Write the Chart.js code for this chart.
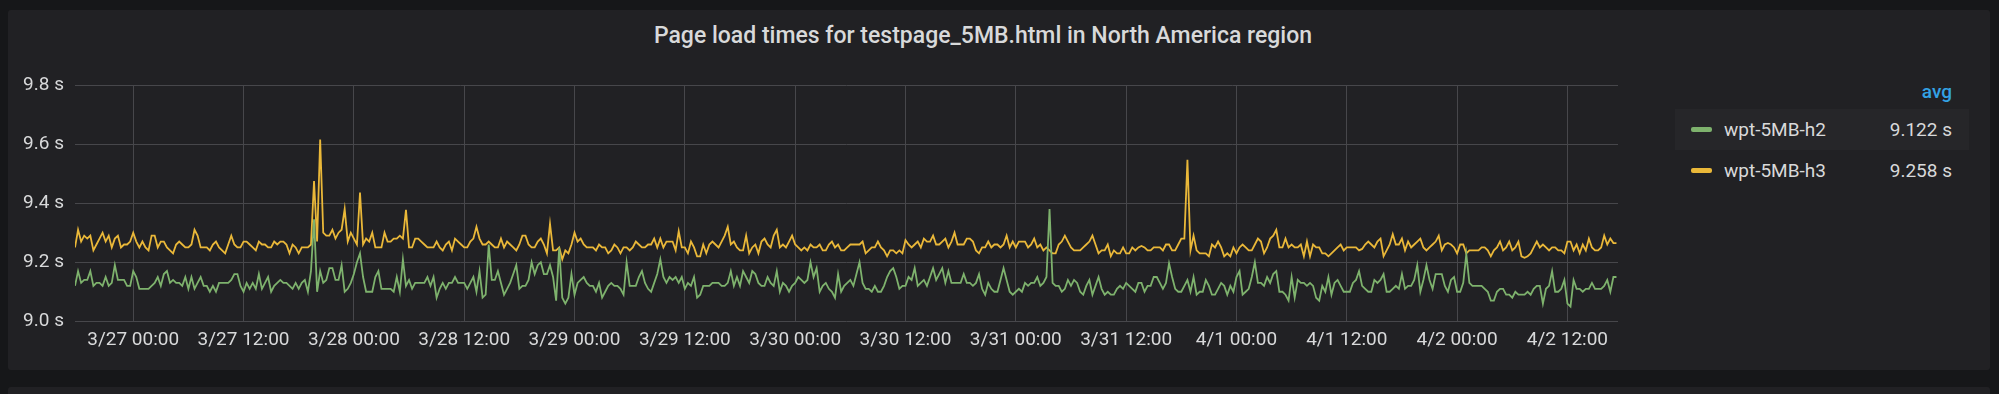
<!DOCTYPE html>
<html>
<head>
<meta charset="utf-8">
<title>Page load times - North America</title>
<script src="https://cdn.jsdelivr.net/npm/chart.js@4.4.1/dist/chart.umd.min.js"></script>
<style>
  html, body { margin: 0; padding: 0; width: 1999px; height: 394px; overflow: hidden; background: #161719; font-family: Roboto, "Noto Sans", sans-serif; }
  .panel { position: absolute; left: 8px; top: 10px; width: 1982px; height: 360px; background: #212124; border-radius: 3px; }
  .panel.next { top: 387px; height: 40px; }
  #title { position: absolute; left: 0; top: 24px; width: 1966px; text-align: center; font-size: 23px; line-height: 23px; font-weight: 500; color: #d8d9da; white-space: nowrap; }
  #chart { position: absolute; left: 0; top: 0; }
  .lg-head { position: absolute; left: 1880px; width: 72px; top: 82px; height: 20px; line-height: 20px; text-align: right; color: #33a2e5; font-size: 19px; font-weight: 500; }
  .lg-row { position: absolute; left: 1675px; width: 294px; height: 41px; display: flex; align-items: center; font-size: 19px; color: #d8d9da; }
  .lg-row.hl { background: #262629; }
  .lg-sw { width: 21px; height: 5px; border-radius: 2px; margin-left: 16px; }
  .lg-name { margin-left: 12px; }
  .lg-val { position: absolute; right: 17px; }
</style>
</head>
<body>
<div class="panel"></div>
<div class="panel next"></div>
<div id="title">Page load times for testpage_5MB.html in North America region</div>
<canvas id="chart" width="1640" height="394"></canvas>
<div class="lg-head">avg</div>
<div id="legend"></div>

<script>
// --- Daten ---
const seriesNames = ['wpt-5MB-h2', 'wpt-5MB-h3'];
const seriesColors = ['#7eb26d', '#eab839'];
const legendAvg = ['9.122 s', '9.258 s'];

// x in hours relative to 3/27 00:00, one test run every 20 minutes
const startHour = -19 / 3;
const stepHours = 1 / 3;
const endHour = 161.5;

const xTickHours = [0, 12, 24, 36, 48, 60, 72, 84, 96, 108, 120, 132, 144, 156];
const xTickLabels = ['3/27 00:00', '3/27 12:00', '3/28 00:00', '3/28 12:00', '3/29 00:00', '3/29 12:00',
  '3/30 00:00', '3/30 12:00', '3/31 00:00', '3/31 12:00', '4/1 00:00', '4/1 12:00', '4/2 00:00', '4/2 12:00'];
const yTickValues = [9.0, 9.2, 9.4, 9.6, 9.8];

// wpt-5MB-h2 (seconds)
const h2Values = [
  9.12,9.17,9.13,9.14,9.14,9.17,9.12,9.13,9.13,9.12,
  9.15,9.12,9.13,9.19,9.14,9.14,9.14,9.12,9.12,9.17,
  9.15,9.11,9.11,9.11,9.11,9.12,9.13,9.15,9.12,9.16,
  9.17,9.13,9.14,9.13,9.13,9.12,9.15,9.11,9.15,9.11,
  9.13,9.15,9.12,9.12,9.10,9.12,9.10,9.13,9.13,9.13,
  9.13,9.14,9.16,9.16,9.12,9.10,9.13,9.11,9.13,9.11,
  9.16,9.11,9.13,9.15,9.10,9.12,9.13,9.14,9.13,9.13,
  9.12,9.11,9.13,9.11,9.13,9.14,9.10,9.17,9.345,9.10,
  9.17,9.13,9.14,9.18,9.18,9.14,9.14,9.19,9.10,9.11,
  9.13,9.16,9.20,9.23,9.15,9.10,9.10,9.10,9.15,9.17,
  9.11,9.11,9.11,9.11,9.10,9.15,9.10,9.21,9.12,9.14,
  9.11,9.13,9.13,9.13,9.13,9.15,9.12,9.15,9.08,9.11,
  9.13,9.11,9.13,9.13,9.15,9.13,9.13,9.13,9.11,9.13,
  9.15,9.10,9.17,9.08,9.09,9.26,9.14,9.14,9.17,9.13,
  9.09,9.11,9.13,9.16,9.19,9.11,9.12,9.12,9.14,9.20,
  9.16,9.19,9.20,9.16,9.16,9.19,9.15,9.07,9.25,9.08,
  9.06,9.08,9.16,9.09,9.13,9.14,9.15,9.13,9.12,9.12,
  9.10,9.13,9.08,9.10,9.12,9.13,9.12,9.12,9.11,9.09,
  9.20,9.12,9.12,9.12,9.15,9.17,9.13,9.11,9.10,9.13,
  9.16,9.21,9.15,9.13,9.15,9.14,9.15,9.13,9.15,9.11,
  9.13,9.12,9.15,9.08,9.09,9.12,9.12,9.12,9.13,9.13,
  9.13,9.12,9.12,9.13,9.17,9.12,9.15,9.12,9.17,9.15,
  9.13,9.17,9.16,9.13,9.12,9.12,9.15,9.13,9.12,9.17,
  9.10,9.13,9.12,9.10,9.12,9.13,9.15,9.14,9.13,9.14,
  9.20,9.15,9.18,9.10,9.12,9.13,9.11,9.10,9.08,9.16,
  9.10,9.12,9.13,9.14,9.12,9.16,9.20,9.13,9.11,9.11,
  9.10,9.12,9.10,9.10,9.12,9.15,9.17,9.18,9.15,9.11,
  9.12,9.12,9.15,9.14,9.18,9.12,9.13,9.14,9.12,9.15,
  9.18,9.14,9.16,9.18,9.13,9.17,9.13,9.13,9.13,9.13,
  9.16,9.13,9.13,9.12,9.13,9.16,9.11,9.09,9.13,9.11,
  9.10,9.10,9.14,9.18,9.14,9.10,9.09,9.10,9.11,9.10,
  9.13,9.12,9.13,9.13,9.15,9.12,9.13,9.15,9.38,9.13,
  9.12,9.12,9.10,9.11,9.14,9.12,9.14,9.13,9.10,9.09,
  9.12,9.14,9.09,9.12,9.15,9.11,9.09,9.10,9.09,9.09,
  9.11,9.12,9.11,9.13,9.12,9.11,9.10,9.13,9.13,9.10,
  9.12,9.12,9.15,9.15,9.13,9.11,9.13,9.196,9.15,9.11,
  9.10,9.10,9.12,9.14,9.10,9.15,9.09,9.10,9.10,9.14,
  9.12,9.09,9.09,9.11,9.13,9.12,9.09,9.12,9.10,9.15,
  9.17,9.09,9.10,9.11,9.15,9.20,9.13,9.13,9.12,9.15,
  9.13,9.16,9.17,9.10,9.10,9.09,9.07,9.15,9.08,9.14,
  9.13,9.13,9.12,9.13,9.12,9.08,9.07,9.12,9.10,9.15,
  9.09,9.13,9.14,9.12,9.10,9.10,9.10,9.13,9.14,9.17,
  9.12,9.11,9.10,9.10,9.14,9.13,9.14,9.16,9.10,9.10,
  9.11,9.12,9.11,9.16,9.11,9.12,9.12,9.14,9.19,9.10,
  9.14,9.19,9.14,9.11,9.16,9.16,9.16,9.12,9.10,9.14,
  9.15,9.10,9.10,9.13,9.227,9.13,9.12,9.12,9.12,9.12,
  9.11,9.10,9.07,9.07,9.10,9.11,9.11,9.09,9.09,9.08,
  9.10,9.09,9.09,9.09,9.10,9.09,9.11,9.12,9.12,9.06,
  9.11,9.12,9.17,9.10,9.10,9.11,9.14,9.06,9.05,9.14,
  9.11,9.11,9.10,9.11,9.11,9.13,9.11,9.11,9.11,9.12,
  9.14,9.10,9.15,9.15
];

// wpt-5MB-h3 (seconds)
const h3Values = [
  9.25,9.31,9.27,9.29,9.28,9.29,9.24,9.26,9.28,9.30,
  9.27,9.29,9.25,9.28,9.29,9.25,9.26,9.26,9.27,9.30,
  9.27,9.25,9.27,9.25,9.24,9.29,9.29,9.25,9.27,9.27,
  9.25,9.24,9.23,9.26,9.27,9.26,9.25,9.25,9.26,9.31,
  9.29,9.25,9.25,9.25,9.24,9.26,9.27,9.25,9.24,9.23,
  9.26,9.29,9.26,9.25,9.25,9.27,9.27,9.26,9.25,9.24,
  9.27,9.26,9.26,9.25,9.25,9.27,9.26,9.27,9.27,9.26,
  9.23,9.26,9.25,9.23,9.25,9.25,9.25,9.26,9.475,9.27,
  9.615,9.30,9.29,9.29,9.31,9.28,9.30,9.31,9.38,9.27,
  9.30,9.28,9.26,9.436,9.26,9.28,9.27,9.30,9.25,9.25,
  9.25,9.30,9.27,9.27,9.28,9.28,9.29,9.28,9.377,9.25,
  9.25,9.28,9.28,9.27,9.26,9.25,9.25,9.25,9.27,9.25,
  9.24,9.26,9.27,9.24,9.28,9.27,9.26,9.25,9.25,9.27,
  9.28,9.32,9.28,9.26,9.26,9.27,9.26,9.25,9.25,9.28,
  9.25,9.27,9.26,9.25,9.24,9.26,9.29,9.29,9.26,9.25,
  9.25,9.27,9.28,9.26,9.23,9.33,9.24,9.24,9.25,9.21,
  9.24,9.23,9.26,9.30,9.27,9.28,9.26,9.25,9.25,9.25,
  9.24,9.26,9.25,9.25,9.23,9.24,9.26,9.25,9.23,9.25,
  9.25,9.24,9.25,9.27,9.26,9.25,9.25,9.26,9.26,9.28,
  9.25,9.28,9.25,9.27,9.27,9.27,9.24,9.305,9.25,9.25,
  9.23,9.27,9.25,9.22,9.22,9.26,9.23,9.26,9.27,9.26,
  9.25,9.27,9.29,9.32,9.26,9.27,9.25,9.24,9.24,9.29,
  9.23,9.25,9.26,9.23,9.27,9.28,9.26,9.25,9.29,9.31,
  9.25,9.26,9.25,9.27,9.29,9.26,9.25,9.24,9.25,9.24,
  9.26,9.25,9.25,9.26,9.24,9.24,9.26,9.27,9.25,9.26,
  9.24,9.24,9.25,9.26,9.26,9.26,9.26,9.27,9.23,9.24,
  9.25,9.25,9.27,9.25,9.24,9.22,9.24,9.24,9.23,9.24,
  9.23,9.275,9.26,9.25,9.26,9.27,9.25,9.28,9.27,9.27,
  9.29,9.26,9.26,9.27,9.28,9.25,9.27,9.30,9.26,9.26,
  9.26,9.28,9.28,9.27,9.24,9.23,9.25,9.25,9.27,9.25,
  9.26,9.26,9.25,9.26,9.29,9.25,9.27,9.25,9.27,9.27,
  9.27,9.25,9.26,9.28,9.25,9.26,9.24,9.25,9.24,9.23,
  9.23,9.26,9.27,9.29,9.27,9.25,9.24,9.24,9.24,9.25,
  9.26,9.27,9.29,9.26,9.23,9.24,9.24,9.26,9.22,9.24,
  9.23,9.23,9.25,9.23,9.23,9.25,9.24,9.25,9.255,9.25,
  9.24,9.24,9.25,9.25,9.25,9.24,9.26,9.26,9.24,9.24,
  9.26,9.28,9.28,9.547,9.24,9.29,9.24,9.23,9.23,9.23,
  9.22,9.26,9.25,9.27,9.25,9.22,9.23,9.22,9.25,9.23,
  9.25,9.26,9.25,9.24,9.24,9.26,9.28,9.27,9.23,9.25,
  9.28,9.29,9.31,9.25,9.25,9.28,9.25,9.26,9.25,9.25,
  9.26,9.22,9.27,9.22,9.26,9.25,9.25,9.23,9.23,9.22,
  9.23,9.24,9.25,9.26,9.24,9.25,9.25,9.25,9.25,9.24,
  9.245,9.26,9.27,9.26,9.25,9.27,9.28,9.22,9.24,9.26,
  9.295,9.26,9.26,9.28,9.24,9.27,9.25,9.26,9.27,9.28,
  9.25,9.24,9.25,9.26,9.27,9.29,9.24,9.26,9.265,9.26,
  9.25,9.23,9.26,9.26,9.23,9.24,9.24,9.24,9.24,9.25,
  9.25,9.24,9.22,9.24,9.25,9.27,9.24,9.25,9.27,9.24,
  9.25,9.27,9.22,9.215,9.22,9.23,9.25,9.27,9.25,9.26,
  9.25,9.24,9.25,9.25,9.24,9.24,9.23,9.27,9.27,9.24,
  9.26,9.23,9.26,9.24,9.28,9.25,9.24,9.24,9.25,9.29,
  9.26,9.28,9.265,9.265
];

// --- Darstellung ---
const textColor = '#d8d9da';
const gridColor = '#47474b';

const toPoints = vals => vals.map((v, i) => ({ x: startHour + i * stepHours, y: v }));

const datasets = [h2Values, h3Values].map((vals, k) => ({
    label: seriesNames[k],
    data: toPoints(vals),
    borderColor: seriesColors[k],
    borderWidth: 1.8,
    pointRadius: 0,
    tension: 0,
    fill: false
}));

Chart.defaults.font.family = 'Roboto';
Chart.defaults.font.size = 19;
Chart.defaults.color = textColor;

new Chart(document.getElementById('chart'), {
    type: 'line',
    data: { datasets },
    options: {
        responsive: false,
        animation: false,
        devicePixelRatio: 1,
        layout: { padding: { top: 85, right: 22, bottom: 0, left: 0 } },
        plugins: { legend: { display: false }, tooltip: { enabled: false } },
        scales: {
            x: {
                type: 'linear',
                min: startHour,
                max: endHour,
                grid: { color: gridColor, drawTicks: false },
                border: { display: false },
                ticks: { autoSkip: false, maxRotation: 0, minRotation: 0, padding: 8, callback: (v, i) => xTickLabels[i] },
                afterBuildTicks: s => { s.ticks = xTickHours.map(v => ({ value: v })); },
                afterFit: s => { s.height = 72.7; }
            },
            y: {
                min: 9.0,
                max: 9.8,
                grid: { color: gridColor, drawTicks: false },
                border: { display: false },
                ticks: { padding: 11, callback: v => v.toFixed(1) + ' s' },
                afterBuildTicks: s => { s.ticks = yTickValues.map(v => ({ value: v })); },
                afterFit: s => { s.width = 75; }
            }
        }
    }
});

// Legende mit Durchschnittswerten
const legend = document.getElementById('legend');
seriesNames.forEach((name, k) => {
    const row = document.createElement('div');
    row.className = 'lg-row' + (k === 0 ? ' hl' : '');
    row.style.top = (109 + k * 41) + 'px';
    row.innerHTML = `<span class="lg-sw" style="background:${seriesColors[k]}"></span>` +
        `<span class="lg-name">${name}</span><span class="lg-val">${legendAvg[k]}</span>`;
    legend.appendChild(row);
});
</script>
</body>
</html>
